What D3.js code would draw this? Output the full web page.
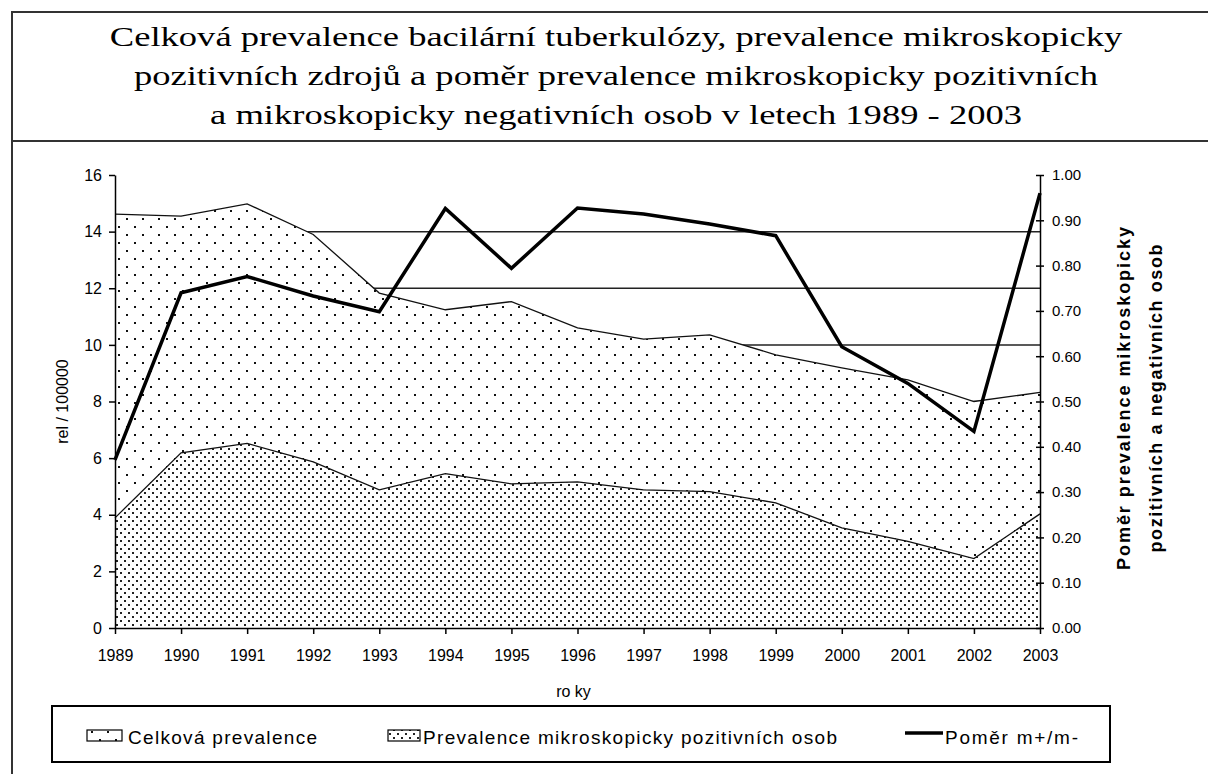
<!DOCTYPE html>
<html>
<head>
<meta charset="utf-8">
<script src="https://cdn.jsdelivr.net/npm/d3@7"></script>
<style>
body { margin: 0; background: #fff; }
text { font-family: Arial, "Liberation Sans", sans-serif; fill: #000; }
</style>
</head>
<body>
<script>
// Data
var years = [1989, 1990, 1991, 1992, 1993, 1994, 1995, 1996, 1997, 1998, 1999, 2000, 2001, 2002, 2003];
var celkova = [14.62, 14.55, 14.98, 13.9, 11.83, 11.24, 11.53, 10.6, 10.2, 10.35, 9.65, 9.19, 8.76, 8.0, 8.32];
var pozitivni = [3.89, 6.19, 6.52, 5.87, 4.88, 5.45, 5.09, 5.16, 4.88, 4.82, 4.42, 3.54, 3.06, 2.45, 4.03];
var pomer = [0.371, 0.74, 0.776, 0.733, 0.698, 0.926, 0.794, 0.927, 0.914, 0.892, 0.866, 0.621, 0.54, 0.434, 0.96];

var leftTicks = [0, 2, 4, 6, 8, 10, 12, 14, 16];
var rightTicks = [0, 0.1, 0.2, 0.3, 0.4, 0.5, 0.6, 0.7, 0.8, 0.9, 1.0];

var titleLines = [
	"Celková prevalence bacilární tuberkulózy, prevalence mikroskopicky",
	"pozitivních zdrojů a poměr prevalence mikroskopicky pozitivních",
	"a mikroskopicky negativních osob v letech 1989 - 2003"
];
var legendNames = ["Celková prevalence", "Prevalence mikroskopicky pozitivních osob", "Poměr m+/m-"];

var margin = {top: 175, right: 168, bottom: 146, left: 115};
var width = 1208 - margin.left - margin.right;
var height = 774 - margin.top - margin.bottom;

var root = d3.select("body").append("svg")
	.attr("width", 1208)
	.attr("height", 774);

// patterns: sparse dots for total, dense dots for positives
var defs = root.append("defs");
var sparse = defs.append("pattern")
	.attr("id", "sparse")
	.attr("patternUnits", "userSpaceOnUse")
	.attr("width", 16).attr("height", 16);
sparse.append("rect").attr("width", 16).attr("height", 16).attr("fill", "#fff");
sparse.append("rect").attr("x", 3).attr("y", 3).attr("width", 2).attr("height", 2).attr("fill", "#111");
sparse.append("rect").attr("x", 11).attr("y", 11).attr("width", 2).attr("height", 2).attr("fill", "#111");

var dense = defs.append("pattern")
	.attr("id", "dense")
	.attr("patternUnits", "userSpaceOnUse")
	.attr("width", 8).attr("height", 8);
dense.append("rect").attr("width", 8).attr("height", 8).attr("fill", "#fff");
dense.append("rect").attr("x", 1).attr("y", 1).attr("width", 2).attr("height", 2).attr("fill", "#222");
dense.append("rect").attr("x", 5).attr("y", 5).attr("width", 2).attr("height", 2).attr("fill", "#222");

// outer frame and title box
root.append("path")
	.attr("d", "M12,774V12H1208M12,141H1208")
	.attr("fill", "none")
	.attr("stroke", "#333")
	.attr("stroke-width", 2);

// title (serif, stretched to the width seen in the original)
var title = root.append("g").attr("class", "title");
var tl = title.selectAll("text")
	.data(titleLines)
	.enter().append("text")
	.attr("x", 0)
	.attr("y", function(d, i) { return 46 + i * 39; })
	.attr("text-anchor", "middle")
	.style("font-family", "'Liberation Serif', 'Times New Roman', serif")
	.style("font-size", "28px")
	.text(function(d) { return d; });
var w0 = tl.node().getComputedTextLength();
title.attr("transform", "translate(616,0) scale(" + (1013 / w0) + ",1)");

var svg = root.append("g")
	.attr("transform", "translate(" + margin.left + "," + margin.top + ")");

var x = d3.scaleLinear().domain([1989, 2003]).range([0, width]);
var yL = d3.scaleLinear().domain([0, 16]).range([height, 0]);
var yR = d3.scaleLinear().domain([0, 1]).range([height, 0]);

// gridlines (hidden under the areas)
svg.selectAll(".grid")
	.data(leftTicks.filter(function(d) { return d > 0 && d < 16; }))
	.enter().append("line")
	.attr("class", "grid")
	.attr("x1", 0).attr("x2", width)
	.attr("y1", function(d) { return yL(d); })
	.attr("y2", function(d) { return yL(d); })
	.attr("stroke", "#222")
	.attr("stroke-width", 1.5);

var area = d3.area()
	.x(function(d, i) { return x(years[i]); })
	.y0(height)
	.y1(function(d) { return yL(d); });
var edge = d3.line()
	.x(function(d, i) { return x(years[i]); })
	.y(function(d) { return yL(d); });

svg.append("path").datum(celkova)
	.attr("d", area).attr("fill", "url(#sparse)");
svg.append("path").datum(celkova)
	.attr("d", edge).attr("fill", "none").attr("stroke", "#111").attr("stroke-width", 1.3);

svg.append("path").datum(pozitivni)
	.attr("d", area).attr("fill", "url(#dense)");
svg.append("path").datum(pozitivni)
	.attr("d", edge).attr("fill", "none").attr("stroke", "#111").attr("stroke-width", 1.3);

// ratio line on the right axis
var ratioLine = d3.line()
	.x(function(d, i) { return x(years[i]); })
	.y(function(d) { return yR(d); });
svg.append("path").datum(pomer)
	.attr("d", ratioLine)
	.attr("fill", "none")
	.attr("stroke", "#000")
	.attr("stroke-width", 3.5)
	.attr("stroke-linejoin", "miter");

// axes
var xAxis = svg.append("g")
	.attr("transform", "translate(0," + height + ")")
	.call(d3.axisBottom(x).tickValues(years).tickFormat(d3.format("d")).tickSize(6).tickPadding(16).tickSizeOuter(0));
var lAxis = svg.append("g")
	.call(d3.axisLeft(yL).tickValues(leftTicks).tickSize(6).tickPadding(7).tickSizeOuter(0));
var rAxis = svg.append("g")
	.attr("transform", "translate(" + width + ",0)")
	.call(d3.axisRight(yR).tickValues(rightTicks).tickFormat(d3.format(".2f")).tickSize(4).tickPadding(8).tickSizeOuter(0));
rAxis.selectAll(".tick line").attr("x1", -4);

[xAxis, lAxis, rAxis].forEach(function(a) {
	a.selectAll("path, line").attr("stroke", "#000").attr("stroke-width", 1.5);
	a.selectAll("text")
		.style("font-family", "Arial, 'Liberation Sans', sans-serif")
		.style("font-size", "16px")
		.attr("fill", "#000");
});
rAxis.selectAll("text").style("font-size", "15px");

// axis titles
svg.append("text")
	.attr("transform", "translate(-47," + (height / 2) + ") rotate(-90)")
	.attr("text-anchor", "middle")
	.style("font-size", "16px")
	.text("rel / 100000");

svg.append("text")
	.attr("x", x(1996) - 4)
	.attr("y", height + 69)
	.attr("text-anchor", "middle")
	.style("font-size", "16px")
	.text("ro ky");

var rTitle = svg.append("g")
	.attr("transform", "translate(" + (width + 90) + "," + (height / 2 - 3) + ") rotate(-90)");
rTitle.append("text")
	.attr("text-anchor", "middle")
	.attr("y", 0)
	.attr("textLength", 343)
	.attr("lengthAdjust", "spacing")
	.style("font-size", "18px").style("font-weight", "bold")
	.text("Poměr prevalence mikroskopicky");
rTitle.append("text")
	.attr("text-anchor", "middle")
	.attr("y", 32)
	.attr("textLength", 308)
	.attr("lengthAdjust", "spacing")
	.style("font-size", "18px").style("font-weight", "bold")
	.text("pozitivních a negativních osob");

// legend
var legend = root.append("g");
legend.append("rect")
	.attr("x", 52).attr("y", 706)
	.attr("width", 1058).attr("height", 56)
	.attr("fill", "#fff").attr("stroke", "#000").attr("stroke-width", 2);

legend.append("rect")
	.attr("x", 87).attr("y", 730).attr("width", 35).attr("height", 11)
	.attr("fill", "url(#sparse)").attr("stroke", "#000").attr("stroke-width", 1.2);
legend.append("rect")
	.attr("x", 388).attr("y", 730).attr("width", 32).attr("height", 11)
	.attr("fill", "url(#dense)").attr("stroke", "#000").attr("stroke-width", 1.2);
legend.append("line")
	.attr("x1", 905).attr("x2", 943).attr("y1", 733).attr("y2", 733)
	.attr("stroke", "#000").attr("stroke-width", 3.5);

var legX = [128, 423, 945];
var legW = [189, 414, 133];
legend.selectAll(".legtext")
	.data(legendNames)
	.enter().append("text")
	.attr("class", "legtext")
	.attr("x", function(d, i) { return legX[i]; })
	.attr("y", 744)
	.attr("textLength", function(d, i) { return legW[i]; })
	.attr("lengthAdjust", "spacing")
	.style("font-size", "19px")
	.text(function(d) { return d; });
</script>
</body>
</html>
